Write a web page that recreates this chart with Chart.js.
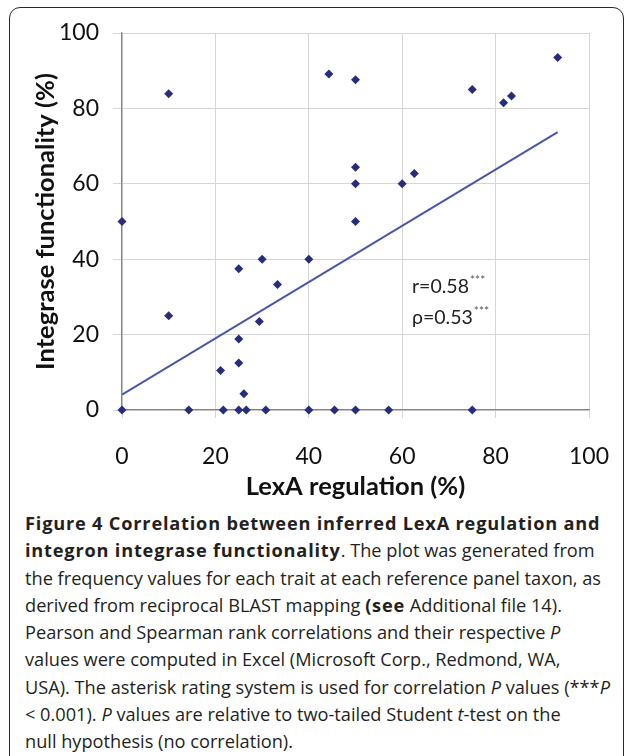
<!DOCTYPE html>
<html>
<head>
<meta charset="utf-8">
<script src="https://cdn.jsdelivr.net/npm/chart.js@4.4.1/dist/chart.umd.min.js"></script>
<style>
  html, body { margin: 0; padding: 0; background: #fff; width: 627px; height: 756px; overflow: hidden; }
  #frame { position: absolute; left: 9px; top: 7px; width: 615px; height: 800px; border: 1.5px solid #2a2a2a; border-radius: 11px; box-sizing: border-box; }
  #wrap { position: absolute; left: 0; top: 0; width: 627px; height: 510px; }
  #stats { position: absolute; left: 412px; top: 272px; font-family: Lato, sans-serif; font-size: 19.5px; color: #222; line-height: 28px; }
  #stats sup { font-size: 12px; color: #555; vertical-align: 0; position: relative; top: -9px; margin-left: 1px; }
  #caption { position: absolute; left: 25px; top: 510px; font-family: "Open Sans", sans-serif; font-size: 18.2px; line-height: 27.3px; color: #231f20; }
  #caption div { white-space: nowrap; }
  #caption b { letter-spacing: 0.8px; }
</style>
</head>
<body>
<div id="frame"></div>
<div id="wrap"><canvas id="c" width="627" height="510"></canvas></div>
<div id="stats">
  <div>r=0.58<sup>***</sup></div>
  <div>ρ=0.53<sup>***</sup></div>
</div>
<div id="caption">
  <div><b>Figure 4 Correlation between inferred LexA regulation and</b></div>
  <div><b>integron integrase functionality</b>. The plot was generated from</div>
  <div>the frequency values for each trait at each reference panel taxon, as</div>
  <div>derived from reciprocal BLAST mapping <b>(see</b> Additional file 14).</div>
  <div>Pearson and Spearman rank correlations and their respective <i>P</i></div>
  <div>values were computed in Excel (Microsoft Corp., Redmond, WA,</div>
  <div>USA). The asterisk rating system is used for correlation <i>P</i> values (***<i>P</i></div>
  <div>&lt; 0.001). <i>P</i> values are relative to two-tailed Student <i>t</i>-test on the</div>
  <div>null hypothesis (no correlation).</div>
</div>
<script>
// LexA regulation (%) for each taxon
const lexA = [0, 0, 10, 10, 14.3, 21.1, 21.7, 25, 25, 25, 25, 26.1, 26.6, 30, 29.4, 30.8, 33.3, 40, 40, 44.3, 45.5, 50, 50, 50, 50, 50, 57.1, 60, 62.6, 75, 75, 81.7, 83.4, 93.3];
// Integrase functionality (%) for each taxon
const integrase = [50, 0, 83.9, 25, 0, 10.5, 0, 37.5, 18.8, 12.5, 0, 4.3, 0, 40, 23.5, 0, 33.3, 40, 0, 89.1, 0, 87.6, 64.4, 60, 50, 0, 0, 60, 62.7, 85, 0, 81.5, 83.3, 93.5];
// Linear trend line end points
const trendX = [0, 93.3];
const trendY = [4.1, 73.7];
const tickValues = [0, 20, 40, 60, 80, 100];

const points = lexA.map((x, i) => ({ x: x, y: integrase[i] }));
const trend = trendX.map((x, i) => ({ x: x, y: trendY[i] }));

const gridColor = '#d6d6d6';
const axisColor = '#868686';

new Chart(document.getElementById('c'), {
  type: 'scatter',
  data: {
    datasets: [
      {
        label: 'Trend',
        data: trend,
        showLine: true,
        borderColor: '#4657a8',
        borderWidth: 2,
        pointRadius: 0,
        fill: false,
        order: 2
      },
      {
        label: 'Taxa',
        data: points,
        pointStyle: 'rectRot',
        pointRadius: 4.5,
        pointHoverRadius: 4.5,
        backgroundColor: '#262d7c',
        borderColor: '#262d7c',
        borderWidth: 0,
        clip: 10,
        order: 1
      }
    ]
  },
  options: {
    responsive: false,
    animation: false,
    events: [],
    layout: { padding: { top: 33, right: 38, left: 0, bottom: 0 } },
    plugins: { legend: { display: false }, tooltip: { enabled: false } },
    scales: {
      x: {
        type: 'linear',
        min: 0, max: 100,
        afterBuildTicks: (s) => { s.ticks = tickValues.map(v => ({ value: v })); },
        afterFit: (s) => { s.height = 100; },
        ticks: { color: '#111', font: { family: 'Lato', size: 23, lineHeight: 3.1 }, padding: 3 },
        grid: { color: gridColor, lineWidth: 1, tickLength: 8, tickColor: gridColor },
        border: { color: axisColor, width: 1.3 },
        title: { display: true, text: 'LexA regulation (%)', color: '#111', font: { family: 'Lato', size: 25.5, weight: 'bold' }, padding: { top: 0, bottom: 8 } }
      },
      y: {
        type: 'linear',
        min: 0, max: 100,
        afterBuildTicks: (s) => { s.ticks = tickValues.map(v => ({ value: v })); },
        afterFit: (s) => { s.width = 122; },
        ticks: { color: '#111', font: { family: 'Lato', size: 23 }, padding: 14 },
        grid: { color: gridColor, lineWidth: 1, tickLength: 9, tickColor: gridColor },
        border: { color: axisColor, width: 1.3 },
        title: { display: true, text: 'Integrase functionality (%)', color: '#111', font: { family: 'Lato', size: 25.5, weight: 'bold' }, padding: { top: 30, bottom: 0 } }
      }
    }
  }
});
</script>
</body>
</html>
